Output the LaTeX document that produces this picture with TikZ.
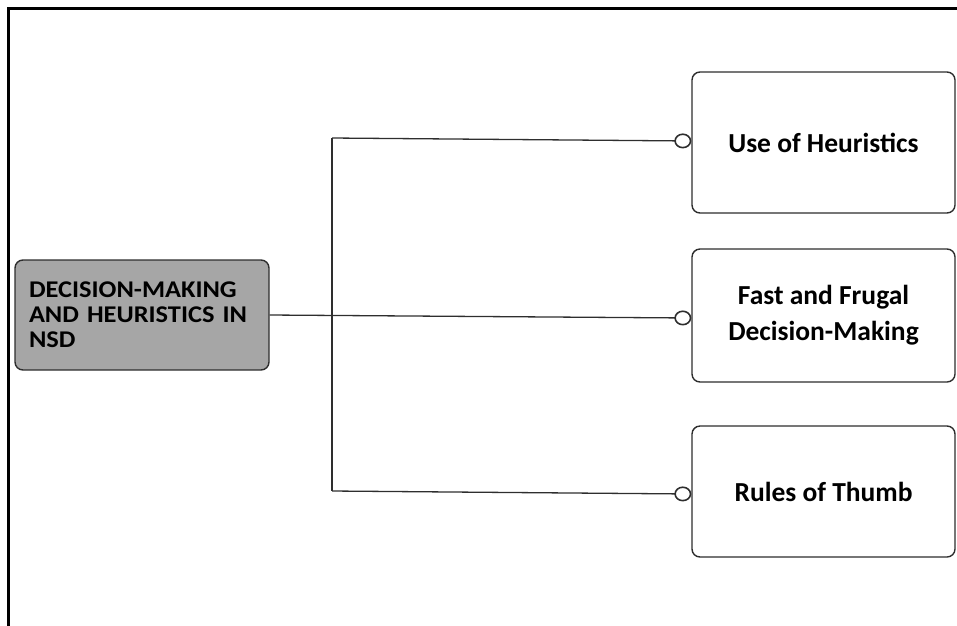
\documentclass[tikz,border=0pt]{standalone}
\usepackage{fontspec}
\setmainfont{Carlito}
\newfontfamily\rootfont[FakeStretch=1.1]{Carlito}
\usetikzlibrary{arrows.meta}
\definecolor{rootfill}{HTML}{A6A6A6}
\definecolor{edgegray}{HTML}{2E2E2E}
\begin{document}
\begin{tikzpicture}[x=1pt,y=-1pt,
  rootbox/.style={draw=edgegray, line width=1.4pt, fill=rootfill, rounded corners=8pt,
    text width=226pt, inner xsep=14pt, inner ysep=0pt, minimum height=110pt, align=left,
    font=\rootfont\bfseries\fontsize{24}{25}\selectfont},
  leafbox/.style={draw=edgegray, line width=1.4pt, fill=white, rounded corners=8pt,
    minimum width=263pt, inner sep=0pt, align=center,
    font=\bfseries\fontsize{27.5}{36}\selectfont},
  conn/.style={draw=edgegray, line width=1.3pt},
  tip/.style={-{Circle[open, length=17pt, width=15pt, line width=1.6pt]}}
]
\useasboundingbox (0,0) rectangle (957,625);
% outer frame (top and left edges)
\draw[line width=3pt, line cap=rect] (8,625) -- (8,8) -- (957,8);

% boxes
\node[rootbox] (root) at (142,315) {DECISION-MAKING\\AND HEURISTICS IN\\NSD};
\node[leafbox, minimum height=141pt] (use) at (823.5,142.5) {Use of Heuristics};
\node[leafbox, minimum height=133pt] (fast) at (823.5,315.5) {Fast and Frugal\\Decision-Making};
\node[leafbox, minimum height=131pt] (rules) at (823.5,491.5) {Rules of Thumb};

% trunk and branches
\coordinate (top) at (332,138);
\coordinate (bot) at (332,491);
\draw[conn] (top) -- (bot);
\draw[conn, tip] (top) -- ([yshift=1.5pt]use.west);
\draw[conn, tip] (root.east) -- ([yshift=-2.5pt]fast.west);
\draw[conn, tip] (bot) -- ([yshift=-2.5pt]rules.west);
\end{tikzpicture}
\end{document}
